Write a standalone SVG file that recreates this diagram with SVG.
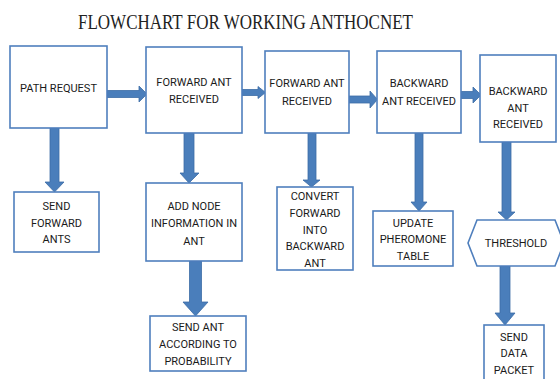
<svg xmlns="http://www.w3.org/2000/svg" width="560" height="379" viewBox="0 0 560 379">
<style>
.box{fill:#fff;stroke:#4f7fbd;stroke-width:1.6}
.arr{fill:#4a7ebb;stroke:#3c6ca6;stroke-width:0.8}
.t{font-family:Roboto,"Liberation Sans",sans-serif;font-size:11px;fill:#1a1a1a;text-anchor:middle}
.title{font-family:"Liberation Serif",serif;font-size:22px;fill:#222}
</style>
<rect width="560" height="379" fill="#fff"/>
<text class="title" x="78" y="29" textLength="335" lengthAdjust="spacingAndGlyphs">FLOWCHART FOR WORKING ANTHOCNET</text>
<g id="connectors">
<polygon class="arr" points="107,90.5 139,90.5 139,86 147,94 139,102 139,97.5 107,97.5"/>
<polygon class="arr" points="242,89.5 258,89.5 258,86.5 265.5,92.5 258,98.5 258,95.5 242,95.5"/>
<polygon class="arr" points="349,96 370,96 370,91 377.5,99.5 370,108 370,103 349,103"/>
<polygon class="arr" points="461,91.5 473,91.5 473,87 481,95 473,103 473,98.5 461,98.5"/>
<polygon class="arr" points="50,128 59,128 59,182 64,182 54.5,192 45,182 50,182"/>
<polygon class="arr" points="184,133 194,133 194,173 199,173 189,183 180,173 184,173"/>
<polygon class="arr" points="189.5,261 201.5,261 201.5,302 208,302 195.5,316 183,302 189.5,302"/>
<polygon class="arr" points="308,133 316,133 316,180 320,180 311.5,187 303,180 308,180"/>
<polygon class="arr" points="415,133 423,133 423,202 427,202 419,211 411,202 415,202"/>
<polygon class="arr" points="502,142 511,142 511,212 515,212 506.5,220 498,212 502,212"/>
<polygon class="arr" points="500,266 510,266 510,313 515,313 505,325 495,313 500,313"/>
</g>
<g id="path-request"><rect class="box" x="10" y="46" width="97" height="82"/><text class="t" x="58.5" y="92">PATH REQUEST</text></g>
<g id="forward-ant-received-1"><rect class="box" x="146" y="47" width="96" height="86"/><text class="t" x="194" y="86">FORWARD ANT</text><text class="t" x="194" y="102.5">RECEIVED</text></g>
<g id="forward-ant-received-2"><rect class="box" x="265" y="51" width="84" height="82"/><text class="t" x="307" y="87">FORWARD ANT</text><text class="t" x="307" y="105">RECEIVED</text></g>
<g id="backward-ant-received-1"><rect class="box" x="377" y="51" width="84" height="82"/><text class="t" x="419" y="87">BACKWARD</text><text class="t" x="419" y="105">ANT RECEIVED</text></g>
<g id="backward-ant-received-2"><rect class="box" x="480" y="55" width="76" height="87"/><text class="t" x="518" y="95">BACKWARD</text><text class="t" x="518" y="112">ANT</text><text class="t" x="518" y="128">RECEIVED</text></g>
<g id="send-forward-ants"><rect class="box" x="14" y="192" width="85" height="60"/><text class="t" x="56.5" y="210">SEND</text><text class="t" x="56.5" y="227">FORWARD</text><text class="t" x="56.5" y="243">ANTS</text></g>
<g id="add-node-info"><rect class="box" x="146" y="183" width="96" height="78"/><text class="t" x="194" y="210">ADD NODE</text><text class="t" x="194" y="227">INFORMATION IN</text><text class="t" x="194" y="245">ANT</text></g>
<g id="send-ant-probability"><rect class="box" x="150" y="316" width="96" height="55"/><text class="t" x="198" y="331">SEND ANT</text><text class="t" x="198" y="348">ACCORDING TO</text><text class="t" x="198" y="365">PROBABILITY</text></g>
<g id="convert-forward"><rect class="box" x="277" y="187" width="76" height="83"/><text class="t" x="315" y="200">CONVERT</text><text class="t" x="315" y="217">FORWARD</text><text class="t" x="315" y="234">INTO</text><text class="t" x="315" y="250">BACKWARD</text><text class="t" x="315" y="267">ANT</text></g>
<g id="update-pheromone"><rect class="box" x="373" y="211" width="80" height="55"/><text class="t" x="413" y="227">UPDATE</text><text class="t" x="413" y="243">PHEROMONE</text><text class="t" x="413" y="260">TABLE</text></g>
<g id="threshold"><polygon class="box" points="468,243 477,220 555,220 564,243 555,266 477,266"/><text class="t" x="516" y="247">THRESHOLD</text></g>
<g id="send-data-packet"><rect class="box" x="484" y="325" width="60" height="62"/><text class="t" x="514" y="341">SEND</text><text class="t" x="514" y="357">DATA</text><text class="t" x="514" y="374">PACKET</text></g>
</svg>
